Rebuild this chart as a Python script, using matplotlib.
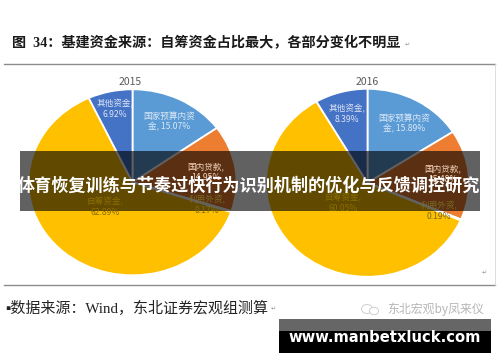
import matplotlib
import numpy as np

from matplotlib import pyplot as plt
from matplotlib.patches import Ellipse, Rectangle

matplotlib.use('Agg')
plt.rcParams['font.family'] = ['Noto Sans CJK SC', 'DejaVu Sans']

W, H = 500, 362

categories = ['国家预算内资金', '国内贷款', '利用外资', '自筹资金', '其他资金']
years = ['2015', '2016']
values_2015 = [15.07, 14.95, 0.17, 62.89, 6.92]
values_2016 = [15.89, 15.48, 0.19, 60.05, 8.39]
colors = ['#5B9BD5', '#ED7D31', '#A5A5A5', '#FFC000', '#4472C4']

headline = '体育恢复训练与节奏过快行为识别机制的优化与反馈调控研究'
title_text = '图  34\uff1a基建资金来源\uff1a自筹资金占比最大\uff0c各部分变化不明显'
source_text = '▪数据来源\uff1aWind\uff0c东北证券宏观组测算'
credit_text = '东北宏观by凤来仪'
site_text = 'www.manbetxluck.com'

# pixel centre and radii of each pie (the source picture is stretched)
pie_boxes = [(132.5, 182.3, 104, 93), (367.5, 182.8, 101.5, 94)]
label_pos_2015 = [(169, 122), (206, 172), (207, 205), (105, 207), (115, 109)]
label_pos_2016 = [(404, 124), (443, 174), (439, 211), (343, 203), (347, 114)]
label_colors = ['#DCE8F5', '#F6D5BE', '#7A6A20', '#8A6D00', '#DCE4F5']
serif_cjk = ['Liberation Serif', 'Noto Sans CJK SC']


def label_text(name, value):
    if name == categories[0]:
        return f'国家预算内资\n金, {value:.2f}%'
    return f'{name},\n{value:.2f}%'


fig = plt.figure(figsize=(W / 100, H / 100), dpi=100, facecolor='white')

for box, values in zip(pie_boxes, [values_2015, values_2016]):
    cx, cy, rx, ry = box
    ax = fig.add_axes([(cx - rx) / W, 1 - (cy + ry) / H, 2 * rx / W, 2 * ry / H])
    ax.pie(values, colors=colors, startangle=90, counterclock=False, radius=1,
           wedgeprops={'edgecolor': 'white', 'linewidth': 1.3})
    ax.set_aspect('auto')
    ax.set_xlim(-1, 1)
    ax.set_ylim(-1, 1)

# everything else goes on a pixel-space layer above the pies
top = fig.add_axes([0, 0, 1, 1], facecolor='none')
top.set_xlim(0, W)
top.set_ylim(H, 0)
top.axis('off')

for y in [63.5, 284.5]:
    top.plot([4, 495], [y, y], color='#8C8C8C', linewidth=1.0)
top.plot([495, 495], [63.5, 284.5], color='#D8D8D8', linewidth=0.6)

top.text(130, 82, years[0], fontsize=7.5, color='#595959', ha='center', va='center')
top.text(367, 82, years[1], fontsize=7.5, color='#595959', ha='center', va='center')

for positions, values in zip([label_pos_2015, label_pos_2016], [values_2015, values_2016]):
    for name, value, pos, col in zip(categories, values, positions, label_colors):
        top.text(pos[0], pos[1], label_text(name, value), fontsize=6.2, color=col,
                 ha='center', va='center', linespacing=1.15)

top.text(12, 43.5, title_text, fontsize=10.2, fontweight='bold', color='#1A1A1A', va='center',
         family=serif_cjk)
top.text(405, 44.5, '↵', fontsize=4.5, color='#999999', va='center', family='DejaVu Sans')
top.text(5, 308, source_text, fontsize=10.8, color='#222222', va='center', family=serif_cjk)
top.text(271, 309, '↵', fontsize=4.5, color='#999999', va='center', family='DejaVu Sans')
top.text(482, 273, '↵', fontsize=4.5, color='#999999', va='center', family='DejaVu Sans')

# wechat logo and credit
top.add_patch(Ellipse((367, 309), 11, 9, facecolor='none', edgecolor='#CFCFCF', linewidth=0.7))
top.add_patch(Ellipse((374, 311), 9, 7.5, facecolor='white', edgecolor='#CFCFCF', linewidth=0.7))
top.text(387, 309, credit_text, fontsize=8.6, color='#B5B5B5', va='center')

# dark band over the pies
top.add_patch(Rectangle((20, 151), 460, 60, facecolor='black', alpha=0.62, edgecolor='none'))
top.text(249, 186, headline, fontsize=12.3, fontweight='bold', color='white', ha='center', va='center')

# site banner
top.add_patch(Rectangle((279, 319), 212, 12, facecolor='#666666', edgecolor='none'))
top.add_patch(Rectangle((279, 331), 212, 22, facecolor='black', edgecolor='none'))
top.text(385, 337, site_text, fontsize=10.6, fontweight='bold', color='white',
         ha='center', va='center', family='DejaVu Sans')

fig.savefig('out.png', dpi=100)
plt.close()
